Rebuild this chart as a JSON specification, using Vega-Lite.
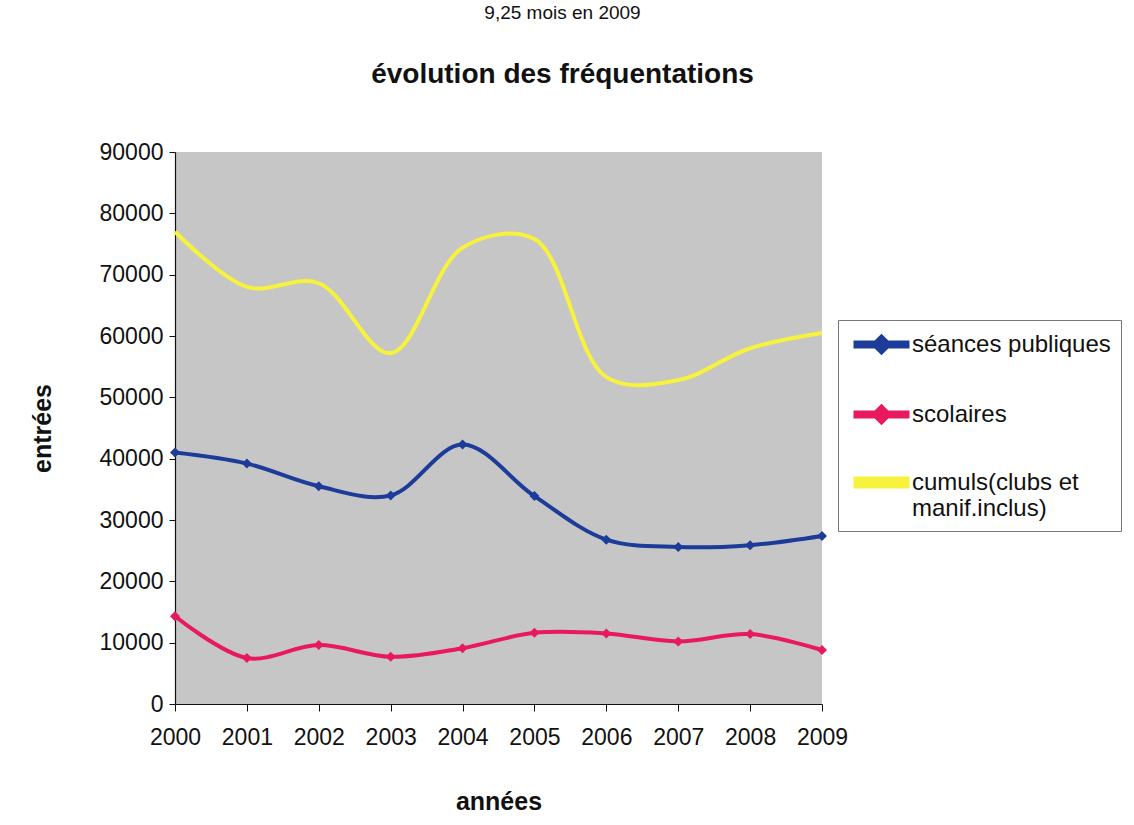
{
  "$schema": "https://vega.github.io/schema/vega-lite/v6.json",
  "width": 647,
  "height": 552,
  "autosize": "none",
  "padding": {"left": 175, "top": 152, "right": 312, "bottom": 121},
  "background": "white",
  "title": {
    "text": "9,25 mois en 2009",
    "subtitle": "évolution des fréquentations",
    "anchor": "middle",
    "frame": "group",
    "dx": 64,
    "offset": 52,
    "font": "Liberation Sans",
    "fontSize": 19,
    "fontWeight": "normal",
    "color": "#111111",
    "subtitleFont": "Liberation Sans",
    "subtitleFontSize": 28,
    "subtitleFontWeight": "bold",
    "subtitleColor": "#111111",
    "subtitlePadding": 38
  },
  "data": {
    "values": [
      {"year": 2000, "series": "séances publiques", "value": 41000},
      {"year": 2001, "series": "séances publiques", "value": 39200},
      {"year": 2002, "series": "séances publiques", "value": 35500},
      {"year": 2003, "series": "séances publiques", "value": 34000},
      {"year": 2004, "series": "séances publiques", "value": 42300},
      {"year": 2005, "series": "séances publiques", "value": 33900},
      {"year": 2006, "series": "séances publiques", "value": 26800},
      {"year": 2007, "series": "séances publiques", "value": 25600},
      {"year": 2008, "series": "séances publiques", "value": 25900},
      {"year": 2009, "series": "séances publiques", "value": 27400},
      {"year": 2000, "series": "scolaires", "value": 14300},
      {"year": 2001, "series": "scolaires", "value": 7500},
      {"year": 2002, "series": "scolaires", "value": 9600},
      {"year": 2003, "series": "scolaires", "value": 7700},
      {"year": 2004, "series": "scolaires", "value": 9100},
      {"year": 2005, "series": "scolaires", "value": 11600},
      {"year": 2006, "series": "scolaires", "value": 11500},
      {"year": 2007, "series": "scolaires", "value": 10200},
      {"year": 2008, "series": "scolaires", "value": 11400},
      {"year": 2009, "series": "scolaires", "value": 8800},
      {"year": 2000, "series": "cumuls(clubs et manif.inclus)", "value": 77000},
      {"year": 2001, "series": "cumuls(clubs et manif.inclus)", "value": 68000},
      {"year": 2002, "series": "cumuls(clubs et manif.inclus)", "value": 68600},
      {"year": 2003, "series": "cumuls(clubs et manif.inclus)", "value": 57200},
      {"year": 2004, "series": "cumuls(clubs et manif.inclus)", "value": 74400},
      {"year": 2005, "series": "cumuls(clubs et manif.inclus)", "value": 75800},
      {"year": 2006, "series": "cumuls(clubs et manif.inclus)", "value": 53300},
      {"year": 2007, "series": "cumuls(clubs et manif.inclus)", "value": 52800},
      {"year": 2008, "series": "cumuls(clubs et manif.inclus)", "value": 58000},
      {"year": 2009, "series": "cumuls(clubs et manif.inclus)", "value": 60500}
    ]
  },
  "encoding": {
    "x": {
      "field": "year",
      "type": "quantitative",
      "scale": {"domain": [2000, 2009], "nice": false, "zero": false},
      "axis": {
        "title": "années",
        "values": [2000, 2001, 2002, 2003, 2004, 2005, 2006, 2007, 2008, 2009],
        "format": "d",
        "grid": false,
        "tickSize": 7,
        "labelPadding": 15,
        "labelFlush": false,
        "labelOverlap": false,
        "labelBound": false,
        "titlePadding": 40
      }
    },
    "y": {
      "field": "value",
      "type": "quantitative",
      "scale": {"domain": [0, 90000], "nice": false},
      "axis": {
        "title": "entrées",
        "values": [0, 10000, 20000, 30000, 40000, 50000, 60000, 70000, 80000, 90000],
        "format": "d",
        "grid": false,
        "tickSize": 6,
        "labelPadding": 6,
        "labelOverlap": false,
        "labelFlush": false,
        "titlePadding": 44
      }
    },
    "color": {
      "field": "series",
      "type": "nominal",
      "scale": {
        "domain": ["séances publiques", "scolaires", "cumuls(clubs et manif.inclus)"],
        "range": ["#1d3c99", "#e8195e", "#f7f23c"]
      },
      "legend": {
        "title": null,
        "orient": "none",
        "legendX": 663,
        "legendY": 168,
        "direction": "vertical",
        "fillColor": "white",
        "strokeColor": "#777777",
        "padding": 10,
        "symbolSize": 625,
        "symbolStrokeWidth": 0,
        "labelFont": "Liberation Sans",
        "labelFontSize": 24,
        "labelColor": "#111111",
        "labelOffset": 35,
        "labelLimit": 400,
        "rowPadding": 37,
        "labelExpr": "datum.label == 'cumuls(clubs et manif.inclus)' ? ['cumuls(clubs et', 'manif.inclus)'] : datum.label",
        "encode": {
          "symbols": {
            "update": {
              "shape": {"signal": "datum.value == 'cumuls(clubs et manif.inclus)' ? 'M-0.56,-0.32L3.6,-0.32L3.6,0.32L-0.56,0.32Z' : 'M-0.56,-0.16L3.6,-0.16L3.6,0.16L-0.56,0.16Z M0.88,0L1.52,-0.64L2.16,0L1.52,0.64Z'"},
              "fill": {"scale": "color", "field": "value"},
              "stroke": {"scale": "color", "field": "value"},
              "strokeWidth": {"value": 0},
              "opacity": {"value": 1},
              "fillOpacity": {"value": 1}
            }
          }
        }
      }
    }
  },
  "layer": [
    {
      "mark": {"type": "line", "interpolate": "catmull-rom"},
      "encoding": {
        "strokeWidth": {
          "field": "series",
          "type": "nominal",
          "scale": {
            "domain": ["séances publiques", "scolaires", "cumuls(clubs et manif.inclus)"],
            "range": [4, 4, 8]
          },
          "legend": null
        }
      }
    },
    {
      "transform": [{"filter": "datum.series != 'cumuls(clubs et manif.inclus)'"}],
      "mark": {"type": "point", "shape": "diamond", "filled": true, "size": 100, "opacity": 1},
      "encoding": {}
    }
  ],
  "config": {
    "font": "Liberation Sans",
    "view": {"fill": "#c6c6c6", "stroke": null},
    "axis": {
      "domainColor": "#111111",
      "domainWidth": 1.2,
      "tickColor": "#111111",
      "labelFont": "Liberation Sans",
      "labelFontSize": 23,
      "labelColor": "#111111",
      "titleFont": "Liberation Sans",
      "titleFontSize": 25,
      "titleFontWeight": "bold",
      "titleColor": "#111111"
    }
  }
}
